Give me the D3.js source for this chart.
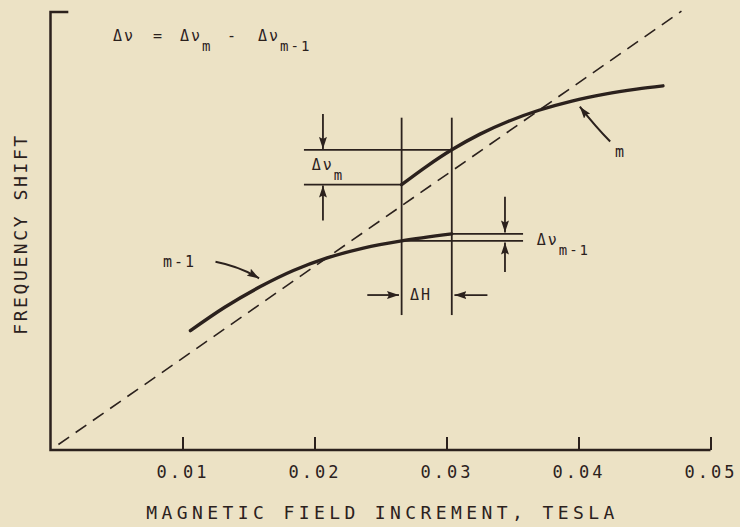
<!DOCTYPE html>
<html>
<head>
<meta charset="utf-8">
<style>
    body { margin: 0; background: #ece2c5; }
    svg { display: block; }
    text { font-family: "DejaVu Sans Mono", monospace; fill: #2b211d; }
</style>
</head>
<body>
<div id="chart"></div>
<script src="https://cdn.jsdelivr.net/npm/d3@7/dist/d3.min.js"></script>
<script>
// ---------- Data (field in tesla, shift in the same units as the dashed line) ----------

const xTicks = [0.01, 0.02, 0.03, 0.04, 0.05];
const xTickLabels = ["0.01", "0.02", "0.03", "0.04", "0.05"];

// curve m-1
const lowerFieldX = [0.0106, 0.0132, 0.0159, 0.0184, 0.0209, 0.0237, 0.0266, 0.0304];
const lowerShiftY = [0.0130, 0.01555, 0.0178, 0.01955, 0.0209, 0.0220, 0.02278, 0.02354];

// curve m
const upperFieldX = [0.0266, 0.0285, 0.0304, 0.0325, 0.0347, 0.0370, 0.0395, 0.0420, 0.0444, 0.0464];
const upperShiftY = [0.0289, 0.0309, 0.0327, 0.03438, 0.03581, 0.03701, 0.03801, 0.03876, 0.03931, 0.03967];

// dashed reference line (shift = field)
const dashFieldX = [0.0006, 0.0478];

// H and H + ΔH
const stepFields = [0.0266, 0.0304];
const stepTop = 0.0362;
const stepBottom = 0.0147;

// Δν_m levels and Δν_m-1 levels
const dvmLeft = 0.0192;
const dvmLevels = [0.0327, 0.0289];
const dvm1Right = 0.0358;
const dvm1Levels = [0.02354, 0.02278];

// short arrows [x1, y1, x2 (tip), y2 (tip)]
const arrows = [
    [0.02064, 0.0366, 0.02064, 0.0328],
    [0.02064, 0.0250, 0.02064, 0.0288],
    [0.03443, 0.0276, 0.03443, 0.0237],
    [0.03443, 0.0194, 0.03443, 0.0226],
    [0.0240, 0.01688, 0.0264, 0.01688],
    [0.0331, 0.01688, 0.0306, 0.01688]
];

// curved pointer arrows [x1, y1, xBend, yBend, xTip, yTip]
const pointers = [
    [0.0424, 0.0336, 0.0413, 0.0352, 0.0401, 0.0374],
    [0.0125, 0.0205, 0.0143, 0.0200, 0.0158, 0.0187]
];

// ---------- Scales ----------

const width = 740;
const height = 527;
const ink = "#2b211d";

const xScale = d3.scaleLinear().domain([0, 0.05]).range([50.5, 710.5]);
const yScale = d3.scaleLinear().domain([0, 0.05]).range([450, -9]);

const svg = d3.select("#chart")
    .append("svg")
    .attr("width", width)
    .attr("height", height);

svg.append("defs").append("marker")
    .attr("id", "head")
    .attr("markerUnits", "userSpaceOnUse")
    .attr("viewBox", "0 0 12 8")
    .attr("refX", 12)
    .attr("refY", 4)
    .attr("markerWidth", 12)
    .attr("markerHeight", 8)
    .attr("orient", "auto")
    .append("path")
    .attr("d", "M0,0 L12,4 L0,8 L2,4 Z")
    .attr("fill", ink);

// ---------- Axes ----------

const xAxis = d3.axisBottom(xScale)
    .tickValues(xTicks)
    .tickFormat((d, i) => xTickLabels[i])
    .tickSizeInner(-13)
    .tickSizeOuter(0)
    .tickPadding(16);

const xAxisGroup = svg.append("g")
    .attr("transform", `translate(0, ${yScale(0)})`)
    .call(xAxis);

xAxisGroup.select(".domain").remove();
xAxisGroup.selectAll(".tick line").attr("stroke", ink).attr("stroke-width", 2);
xAxisGroup.selectAll(".tick text")
    .attr("fill", ink)
    .style("font-family", "DejaVu Sans Mono")
    .style("font-size", "17px")
    .style("letter-spacing", "3px");

// frame: y axis with a short cap, and the field axis
const frame = d3.path();
frame.moveTo(xScale(0.00135), yScale(0.0477));
frame.lineTo(xScale(0), yScale(0.0477));
frame.lineTo(xScale(0), yScale(0));
frame.lineTo(xScale(0.05), yScale(0));
svg.append("path")
    .attr("d", frame.toString())
    .attr("fill", "none")
    .attr("stroke", ink)
    .attr("stroke-width", 2.5);

svg.append("text")
    .attr("x", (xScale(0) + xScale(0.05)) / 2 + 2)
    .attr("y", 519)
    .attr("text-anchor", "middle")
    .style("font-size", "18px")
    .style("letter-spacing", "4.4px")
    .text("MAGNETIC FIELD INCREMENT, TESLA");

svg.append("text")
    .attr("transform", `translate(27, 234) rotate(-90)`)
    .attr("text-anchor", "middle")
    .style("font-size", "18px")
    .style("letter-spacing", "2.6px")
    .text("FREQUENCY SHIFT");

// ---------- Lines ----------

const line = d3.line()
    .x(d => xScale(d[0]))
    .y(d => yScale(d[1]));

const smooth = d3.line()
    .x(d => xScale(d[0]))
    .y(d => yScale(d[1]))
    .curve(d3.curveCatmullRom);

svg.append("path")
    .attr("d", line(dashFieldX.map(v => [v, v])))
    .attr("fill", "none")
    .attr("stroke", ink)
    .attr("stroke-width", 1.6)
    .attr("stroke-dasharray", "13,8");

svg.append("path")
    .attr("d", smooth(lowerFieldX.map((x, i) => [x, lowerShiftY[i]])))
    .attr("fill", "none")
    .attr("stroke", ink)
    .attr("stroke-width", 3.4)
    .attr("stroke-linecap", "round");

svg.append("path")
    .attr("d", smooth(upperFieldX.map((x, i) => [x, upperShiftY[i]])))
    .attr("fill", "none")
    .attr("stroke", ink)
    .attr("stroke-width", 3.4)
    .attr("stroke-linecap", "round");

// guide lines
const guides = [];
stepFields.forEach(x => guides.push([[x, stepBottom], [x, stepTop]]));
guides.push([[dvmLeft, dvmLevels[0]], [stepFields[1], dvmLevels[0]]]);
guides.push([[dvmLeft, dvmLevels[1]], [stepFields[0], dvmLevels[1]]]);
guides.push([[stepFields[1], dvm1Levels[0]], [dvm1Right, dvm1Levels[0]]]);
guides.push([[stepFields[0], dvm1Levels[1]], [dvm1Right, dvm1Levels[1]]]);

svg.append("g").selectAll("path")
    .data(guides)
    .join("path")
    .attr("d", d => line(d))
    .attr("fill", "none")
    .attr("stroke", ink)
    .attr("stroke-width", 1.8);

svg.append("g").selectAll("path")
    .data(arrows)
    .join("path")
    .attr("d", d => line([[d[0], d[1]], [d[2], d[3]]]))
    .attr("stroke", ink)
    .attr("stroke-width", 1.8)
    .attr("marker-end", "url(#head)");

svg.append("g").selectAll("path")
    .data(pointers)
    .join("path")
    .attr("d", d => `M${xScale(d[0])},${yScale(d[1])} Q${xScale(d[2])},${yScale(d[3])} ${xScale(d[4])},${yScale(d[5])}`)
    .attr("fill", "none")
    .attr("stroke", ink)
    .attr("stroke-width", 2)
    .attr("marker-end", "url(#head)");

// ---------- Labels ----------

function label(x, y, main, sub, size) {
    const t = svg.append("text")
        .attr("x", xScale(x))
        .attr("y", yScale(y))
        .style("font-size", size + "px")
        .style("letter-spacing", "2px");
    t.append("tspan").text(main);
    if (sub) {
        t.append("tspan")
            .attr("dy", 10)
            .style("font-size", (size - 1) + "px")
            .text(sub);
    }
    return t;
}

// formula at the top
label(0.00473, 0.0445, "Δν", null, 15);
label(0.00777, 0.0445, "=", null, 15);
label(0.00981, 0.0445, "Δν", "m", 15);
label(0.01337, 0.0445, "-", null, 15);
label(0.01572, 0.0445, "Δν", "m-1", 15);

label(0.01979, 0.0305, "Δν", "m", 15);
label(0.03683, 0.02233, "Δν", "m-1", 15);
label(0.02723, 0.01634, "ΔH", null, 15);
label(0.04277, 0.03192, "m", null, 15);
label(0.00852, 0.01997, "m-1", null, 15);
</script>
</body>
</html>
